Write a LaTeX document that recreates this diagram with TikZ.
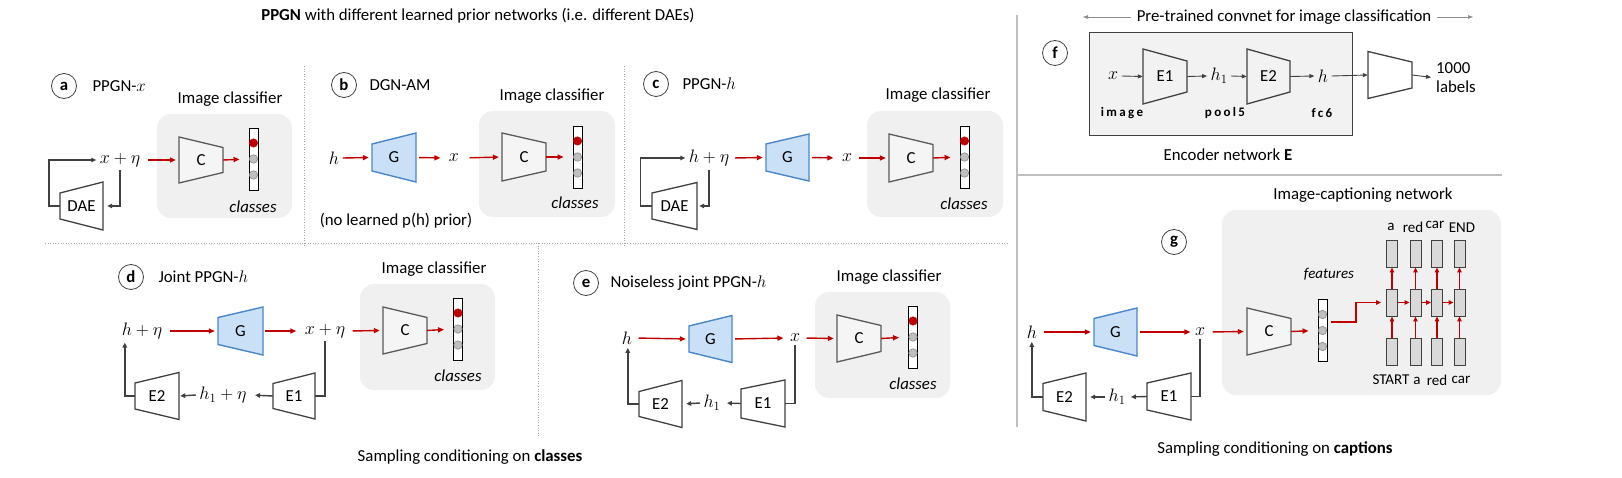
\RequirePackage{fix-cm}
\documentclass[tikz,border=0pt]{standalone}
\usepackage{fontspec}
\setmainfont{Carlito}
\newfontfamily\spaced[LetterSpace=18]{Carlito}
\usetikzlibrary{arrows.meta,calc}
\definecolor{myred}{HTML}{C00000}
\definecolor{dgray}{HTML}{404040}
\definecolor{mgray}{HTML}{595959}
\definecolor{boxgray}{HTML}{F0F0F0}
\definecolor{encgray}{HTML}{F2F2F2}
\definecolor{cfill}{HTML}{F5F5F5}
\definecolor{gfill}{HTML}{C9E0F7}
\definecolor{gdraw}{HTML}{4A86C8}
\definecolor{sepgray}{HTML}{A6A6A6}
\definecolor{solgray}{HTML}{BFBFBF}
\definecolor{dotgray}{HTML}{BFBFBF}
\definecolor{cellgray}{HTML}{D9D9D9}
\definecolor{lgarr}{HTML}{8C8C8C}
\newcommand\fs{\fontsize{16.8}{20}\selectfont}
\newcommand\fsm{\fontsize{15}{18}\selectfont}
\newcommand\trap[8]{%
  \draw[#7] (#2-#4,#3-#5) -- (#2+#4,#3-#6) -- (#2+#4,#3+#6) -- (#2-#4,#3+#5) -- cycle;
  \node[inner sep=0pt, minimum width={2*#4pt}, minimum height={2*#5pt}] (#1) at (#2,#3) {#8};}
\newcommand\clsbar[3]{%
  \node[clsbarbox] (#1) at (#2,#3) {};
  \node[reddot] (#1a) at (#2,#3-16) {};
  \node[graydot] (#1b) at (#2,#3) {};
  \node[graydot] (#1c) at (#2,#3+16) {};}
\newcommand\featbar[3]{%
  \node[clsbarbox] (#1) at (#2,#3) {};
  \node[graydot] (#1a) at (#2,#3-16) {};
  \node[graydot] (#1b) at (#2,#3) {};
  \node[graydot] (#1c) at (#2,#3+16) {};}
\begin{document}
\begin{tikzpicture}[x=1pt,y=-1pt,
  every node/.style={font=\fs},
  mth/.style={font=\fontsize{18}{21}\selectfont},
  tstyle/.style={draw=dgray, line width=1.3pt, fill=white},
  estyle/.style={draw=dgray, line width=1.3pt, fill=encgray},
  cstyle/.style={draw=mgray, line width=1.3pt, fill=cfill},
  gstyle/.style={draw=gdraw, line width=1.4pt, fill=gfill},
  redarr/.style={draw=myred, line width=1.4pt, -{Triangle[length=6pt,width=5pt]}, shorten >=3pt},
  redarrs/.style={draw=myred, line width=1.2pt, -{Triangle[length=5pt,width=4.5pt]}},
  fbarr/.style={draw=dgray, line width=1.4pt, -{Triangle[length=5pt,width=4.5pt]}},
  fbline/.style={draw=dgray, line width=1.4pt},
  farr/.style={draw=dgray, line width=0.9pt, -{Triangle[length=5pt,width=4pt]}},
  grayarr/.style={draw=lgarr, line width=0.8pt, -{Triangle[length=5pt,width=3.5pt]}},
  clsbarbox/.style={draw=black, line width=0.9pt, fill=white, minimum width=9pt, minimum height=62pt, inner sep=0pt},
  reddot/.style={circle, fill=myred, draw=myred, minimum size=8.5pt, inner sep=0pt},
  graydot/.style={circle, fill=dotgray, draw=gray, line width=0.5pt, minimum size=8.5pt, inner sep=0pt},
  panelbox/.style={fill=boxgray, rounded corners=14pt, inner sep=0pt},
  lab/.style={circle, draw=dgray, line width=0.8pt, minimum size=25pt, inner sep=0pt, font=\fs\bfseries},
  cell/.style={draw=dgray, line width=0.9pt, fill=cellgray, minimum width=11pt, minimum height=27pt, inner sep=0pt},
  sep/.style={draw=sepgray, line width=0.8pt, dash pattern=on 1pt off 1.6pt},
  solsep/.style={draw=solgray, line width=1.3pt},
  ital/.style={font=\fs\itshape},
  word/.style={font=\fsm}
]
\useasboundingbox (0,0) rectangle (1622,478);

% ---------- separators ----------
\draw[sep] (304,66) -- (304,246);
\draw[sep] (624,66) -- (624,247);
\draw[sep] (45,243) -- (1008,243);
\draw[sep] (538,243) -- (538,437);
\draw[solsep] (1017,15) -- (1017,427);
\draw[solsep] (1017,175) -- (1502,175);

% ---------- titles ----------
\node (title) at (478,16) {\textbf{PPGN} with different learned prior networks (i.e. different DAEs)};
\node (capcls) at (470,457) {Sampling conditioning on \textbf{classes}};
\node (capcap) at (1275,449) {Sampling conditioning on \textbf{captions}};

% ---------- background boxes ----------
\node[panelbox, minimum width=135pt, minimum height=104pt] (boxa) at (224.5,166) {};
\node[panelbox, minimum width=136pt, minimum height=106pt] (boxb) at (547,164) {};
\node[panelbox, minimum width=136pt, minimum height=106pt] (boxc) at (935,164) {};
\node[panelbox, minimum width=135pt, minimum height=106pt] (boxd) at (427.5,337) {};
\node[panelbox, minimum width=135pt, minimum height=106pt] (boxe) at (882.5,345) {};
\node[panelbox, minimum width=279pt, minimum height=185pt] (boxg) at (1361.5,302.5) {};

% ---------- panel a ----------
\node[lab] (la) at (64,86) {a};
\node[anchor=west] (ta) at (89,86) {PPGN-$x$};
\node (ica) at (230,99) {Image classifier};
\node[mth] (xa) at (120,160) {$x+\eta$};
\trap{Ca}{201}{160}{22}{23}{12.5}{cstyle}{C}
\clsbar{bara}{253.5}{159}
\node[ital] (cla) at (253,207) {classes};
\trap{DAEa}{81.5}{206}{21.5}{13}{24}{tstyle}{DAE}
\draw[redarr, shorten <=4pt] (xa.east) -- (Ca.west);
\draw[redarr, shorten >=9pt] (Ca.east) -- (bara.west);
\draw[fbarr] (DAEa.west) -- ++(-11,0) |- (xa.west);
\draw[fbarr, shorten >=4pt] (xa.south) |- (DAEa.east);

% ---------- panel b ----------
\node[lab] (lb) at (344,85) {b};
\node[anchor=west] (tb) at (366,85) {DGN-AM};
\node (icb) at (552,96) {Image classifier};
\node[mth] (hb) at (334,158) {$h$};
\trap{Gb}{394}{157.5}{22}{13.5}{24.5}{gstyle}{G}
\node[mth] (xb) at (454,158) {$x$};
\trap{Cb}{524}{157}{22}{24}{14}{cstyle}{C}
\clsbar{barb}{577.5}{157}
\node[ital] (clb) at (575,203) {classes};
\node (nlp) at (396,221) {(no learned p(h) prior)};
\draw[redarr] (hb.east) -- (Gb.west);
\draw[redarr, shorten <=3pt, shorten >=5pt] (Gb.east) -- (xb.west);
\draw[redarr, shorten <=7pt] (xb.east) -- (Cb.west);
\draw[redarr, shorten >=9pt] (Cb.east) -- (barb.west);

% ---------- panel c ----------
\node[lab] (lc) at (656,84) {c};
\node[anchor=west] (tc) at (679,84) {PPGN-$h$};
\node (icc) at (938,95) {Image classifier};
\node[mth] (hc) at (709,158) {$h+\eta$};
\trap{Gc}{787.5}{157.5}{21.5}{13.5}{23.5}{gstyle}{G}
\node[mth] (xc) at (847,158) {$x$};
\trap{Cc}{911}{158}{22}{24}{13.5}{cstyle}{C}
\clsbar{barc}{964.5}{157}
\node[ital] (clc) at (964,204) {classes};
\trap{DAEc}{674.5}{206}{22.5}{13}{23.5}{tstyle}{DAE}
\draw[redarr, shorten <=2pt] (hc.east) -- (Gc.west);
\draw[redarr, shorten <=3pt, shorten >=5pt] (Gc.east) -- (xc.west);
\draw[redarr, shorten <=3pt] (xc.east) -- (Cc.west);
\draw[redarr, shorten >=9pt] (Cc.east) -- (barc.west);
\draw[fbarr] (DAEc.west) -- ++(-11.5,0) |- (hc.west);
\draw[fbarr, shorten >=2pt] (hc.south) |- (DAEc.east);

% ---------- panel d ----------
\node[lab] (ld) at (131,277) {d};
\node[anchor=west] (td) at (155,277) {Joint PPGN-$h$};
\node (icd) at (434,269) {Image classifier};
\node[mth] (hd) at (142,331) {$h+\eta$};
\trap{Gd}{240.5}{331}{22.5}{13.5}{24}{gstyle}{G}
\node[mth] (xd) at (325,331) {$x+\eta$};
\trap{Cd}{405}{330.5}{22}{23.5}{13}{cstyle}{C}
\clsbar{bard}{458}{329}
\node[ital] (cld) at (458,376) {classes};
\trap{E1d}{294}{396}{21}{12.5}{23}{tstyle}{E1}
\node[mth] (h1d) at (223,395) {$h_1+\eta$};
\trap{E2d}{157}{396}{22}{13}{23.5}{tstyle}{E2}
\draw[redarr, shorten <=4pt] (hd.east) -- (Gd.west);
\draw[redarr, shorten <=2pt, shorten >=5pt] (Gd.east) -- (xd.west);
\draw[redarr, shorten <=4pt] (xd.east) -- (Cd.west);
\draw[redarr, shorten >=9pt] (Cd.east) -- (bard.west);
\draw[fbline] (xd.south) |- (E1d.east);
\draw[fbarr, shorten >=5pt] (E1d.west) -- (h1d.east);
\draw[fbarr, shorten >=1pt] (h1d.west) -- (E2d.east);
\draw[fbarr] (E2d.west) -- ++(-10,0) coordinate (d1) -- (d1 |- hd.south);

% ---------- panel e ----------
\node[lab] (le) at (586,283) {e};
\node[anchor=west] (te) at (607,283) {Noiseless joint PPGN-$h$};
\node (ice) at (889,277) {Image classifier};
\node[mth] (he) at (627,338) {$h$};
\trap{Ge}{710.5}{339}{21.5}{13}{23.5}{gstyle}{G}
\node[mth] (xe) at (795,338) {$x$};
\trap{Ce}{859}{338.5}{22}{23.5}{13}{cstyle}{C}
\clsbar{bare}{913}{337}
\node[ital] (cle) at (913,384) {classes};
\trap{E1e}{763}{403.5}{22}{14.5}{23.5}{tstyle}{E1}
\node[mth] (h1e) at (712,403) {$h_1$};
\trap{E2e}{660.5}{404}{21.5}{12.5}{23.5}{tstyle}{E2}
\draw[redarr, shorten <=3pt] (he.east) -- (Ge.west);
\draw[redarr, shorten <=3pt] (Ge.east) -- (xe.west);
\draw[redarr, shorten <=3pt] (xe.east) -- (Ce.west);
\draw[redarr, shorten >=9pt] (Ce.east) -- (bare.west);
\draw[fbline] (xe.south) |- (E1e.east);
\draw[fbarr, shorten >=3pt] (E1e.west) -- (h1e.east);
\draw[fbarr, shorten >=4pt] (h1e.west) -- (E2e.east);
\draw[fbarr] (E2e.west) -- ++(-11,0) coordinate (e1) -- (e1 |- he.south);

% ---------- panel f ----------
\node (pt) at (1284,17) {Pre-trained convnet for image classification};
\coordinate (ptl) at (1083,17);
\coordinate (ptr) at (1473,17);
\draw[grayarr] ([xshift=-2pt]pt.west) -- (ptl);
\draw[grayarr] ([xshift=2pt]pt.east) -- (ptr);
\node[lab] (lf) at (1055,53) {f};
\node[draw=dgray, fill=encgray, line width=1pt, minimum width=263pt, minimum height=103pt, inner sep=0pt] (encbox) at (1220.5,84.5) {};
\node[mth] (xf) at (1113,76) {$x$};
\trap{E1f}{1165}{76.5}{22}{27.5}{15.5}{estyle}{E1}
\node[mth] (h1f) at (1219,76) {$h_1$};
\trap{E2f}{1268.5}{76.5}{21.5}{27.5}{15.5}{estyle}{E2}
\node[mth] (hf) at (1323,76) {$h$};
\trap{Tf}{1390}{75}{22}{23.5}{13}{tstyle}{}
\node[anchor=west, align=left, inner sep=0pt, font=\fs\linespread{0.95}\selectfont] (lbl) at (1436,78) {1000\\labels};
\node[font=\fontsize{13}{15}\selectfont\spaced\bfseries] (nimg) at (1122,113) {image};
\node[font=\fontsize{13}{15}\selectfont\spaced\bfseries] (npool) at (1225,113) {pool5};
\node[font=\fontsize{13}{15}\selectfont\spaced\bfseries] (nfc) at (1322,113) {fc6};
\node (encname) at (1228,155) {Encoder network \textbf{E}};
\draw[farr] (xf.east) -- (E1f.west);
\draw[farr] (E1f.east) -- (h1f.west);
\draw[farr] (h1f.east) -- (E2f.west);
\draw[farr] (E2f.east) -- (hf.west);
\draw[farr] (hf.east) -- (Tf.west);
\draw[farr, shorten >=5pt] (Tf.east) -- (lbl.west);

% ---------- panel g ----------
\node[lab] (lg) at (1174,242) {g};
\node (icg) at (1363,195) {Image-captioning network};
\node[mth] (hg) at (1032,332) {$h$};
\trap{Gg}{1115.5}{332}{21.5}{13.5}{24}{gstyle}{G}
\node[mth] (xg) at (1200,332) {$x$};
\trap{Cg}{1269}{331.5}{22}{23.5}{13}{cstyle}{C}
\featbar{fbar}{1322.5}{330.5}
\node[font=\fsm\itshape] (feat) at (1329,274) {features};
\trap{E1g}{1169}{396.5}{22}{13.5}{23.5}{tstyle}{E1}
\node[mth] (h1g) at (1117,397) {$h_1$};
\trap{E2g}{1064.5}{397}{21.5}{13.5}{24}{tstyle}{E2}
\draw[redarr, shorten <=3pt] (hg.east) -- (Gg.west);
\draw[redarr, shorten <=3pt, shorten >=1pt] (Gg.east) -- (xg.west);
\draw[redarr, shorten <=4pt] (xg.east) -- (Cg.west);
\draw[redarr, shorten >=9pt] (Cg.east) -- (fbar.west);
\draw[fbline] (xg.south) |- (E1g.east);
\draw[fbarr, shorten >=2pt] (E1g.west) -- (h1g.east);
\draw[fbarr, shorten >=4pt] (h1g.west) -- (E2g.east);
\draw[fbarr] (E2g.west) -- ++(-11,0) coordinate (g1) -- (g1 |- hg.south);

% RNN cells
\foreach \k/\cx in {1/1392,2/1415.5,3/1437,4/1459.5}{
  \node[cell] (r1c\k) at (\cx,253.5) {};
  \node[cell] (r2c\k) at (\cx,302.5) {};
  \node[cell] (r3c\k) at (\cx,351.5) {};
  \draw[redarrs] (r3c\k.north) -- (r2c\k.south);
  \draw[redarrs] (r2c\k.north) -- (r1c\k.south);
}
\draw[redarrs] (r2c1.east) -- (r2c2.west);
\draw[redarrs] (r2c2.east) -- (r2c3.west);
\draw[redarrs] (r2c3.east) -- (r2c4.west);
\coordinate (fs) at (1331,322);
\draw[redarrs, shorten >=5pt] (fs) -- ++(25,0) |- (r2c1.west);
\node[word] (wt1) at (1391,227) {a};
\node[word] (wt2) at (1413,227) {red};
\node[word] (wt3) at (1435,225) {car};
\node[word] (wt4) at (1462,228) {END};
\node[word] (wb1) at (1391,380) {START};
\node[word] (wb2) at (1417,381) {a};
\node[word] (wb3) at (1437,380) {red};
\node[word] (wb4) at (1461,380) {car};
\end{tikzpicture}
\end{document}
